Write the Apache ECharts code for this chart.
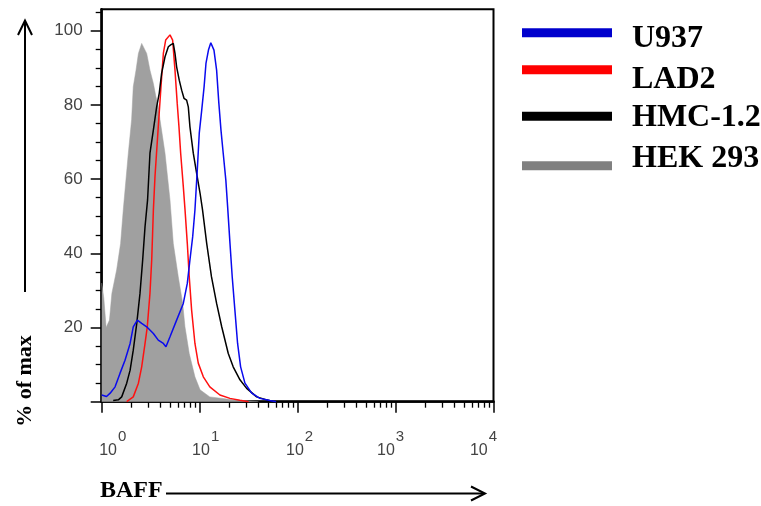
<!DOCTYPE html>
<html><head><meta charset="utf-8">
<script src="https://cdn.jsdelivr.net/npm/echarts@6/dist/echarts.min.js"></script>
<style>html,body{margin:0;padding:0;background:#fff}#c{width:761px;height:506px}</style>
</head><body><div id="c"></div>
<script>
// ---- data ----
const seriesNames = ['U937', 'LAD2', 'HMC-1.2', 'HEK 293'];

const u937X = [1.00,1.12,1.22,1.37,1.54,1.73,1.95,2.10,2.31,2.56,2.88,3.37,3.78,4.26,4.53,4.98,5.82,6.81,7.48,7.96,8.49,8.95,9.46,9.91,10.5,11.1,11.6,12.3,13.0,14.0,14.9,15.7,16.5,17.4,18.5,19.3,20.4,21.5,22.9,24.4,26.2,29.0,34.0,41.2,52.1,60.3];
const u937Y = [1.8,1.4,2.3,4,7.7,11.2,15.7,20.2,22,21.1,20.2,18.4,16.6,15.7,14.8,17.5,22,26.5,31.9,38.2,44.5,51.7,62.5,72.4,78.6,84.9,91.2,94.8,96.8,94.8,89.4,80.5,73.3,67,59.8,52.6,42.7,33.7,24.7,15.7,9.4,5,2.3,0.9,0.3,0];

const lad2X = [1.80,2.10,2.37,2.56,2.77,2.92,3.11,3.24,3.37,3.50,3.78,4.03,4.26,4.50,4.98,5.30,5.60,5.90,6.15,6.40,6.81,7.08,7.48,7.83,8.28,8.95,9.68,10.9,12.7,16.1,20.4,25.7,31.6];
const lad2Y = [0,1.3,5,9.4,15.7,20.2,29.2,38.2,51.7,60.7,74.1,84.9,93.9,97.5,98.9,97.5,89.4,80.5,74.1,67,58,52,42.7,33.7,24.7,15.7,10.4,6.7,4.0,1.8,0.9,0.4,0];

const hmcX = [1.31,1.48,1.60,1.80,1.95,2.10,2.28,2.46,2.62,2.77,2.94,3.11,3.37,3.64,3.87,4.09,4.43,4.79,5.06,5.38,5.60,5.82,6.19,6.55,6.92,7.36,7.66,7.96,8.61,9.31,10.1,10.7,11.8,13.2,14.9,16.8,19.6,22.0,25.8,30.2,38.2,48.3,56.2];
const hmcY = [0.3,0.5,1.3,5,8.5,13.9,21.1,29.2,38.2,47.2,54.4,67,73.3,79.5,83.2,88.5,93,95.7,96.2,96.6,93.9,90.3,86.7,84,81.8,81.3,79.5,74.1,67,61.6,56.2,51.7,42.7,33.7,26.5,20.2,13,9.4,5.9,3.6,1.3,0.5,0];

const hekX = [1.00,1.05,1.11,1.16,1.20,1.27,1.42,1.56,1.66,1.87,2.02,2.10,2.24,2.37,2.56,2.88,3.11,3.37,3.58,3.76,3.94,4.43,4.98,5.38,6.05,6.71,7.08,7.83,8.95,10.1,12.7,22.0,39.8];
const hekY = [32,28,20,19.5,22,29.2,35.5,42.7,51.7,67,76,84.9,89.4,93.9,96.6,93.9,89.4,85.8,82.2,80,76,67,54.4,42.7,33.7,26.5,20.2,13,6.7,3.2,1.3,0.5,0];

const xTickValues = [1, 10, 100, 1000, 10000];
const xMinorTickValues = [2,3,4,5,6,7,8,9,20,30,40,50,60,70,80,90,200,300,400,500,600,700,800,900,2000,3000,4000,5000,6000,7000,8000,9000];
const yTickValues = [0, 20, 40, 60, 80, 100];
const yLabelValues = [20, 40, 60, 80, 100];
const yMinorTickValues = [5,10,15,25,30,35,45,50,55,65,70,75,85,90,95,105];

const xAxisTitle = 'BAFF';
const yAxisTitle = '% of max';

// ---- styling ----
const lineColors = ['#0a0aee', '#ff1010', '#000000', '#a0a0a0'];
const legendColors = ['#0000cd', '#ff0000', '#000000', '#808080'];
const labelShift = [11, 6, 2, -5, -10];
const SERIF = '"Liberation Serif","Times New Roman",serif';
const SANS = '"Liberation Sans",Arial,sans-serif';

const pairs = (xs, ys) => xs.map((x, i) => [x, ys[i]]);
const seriesData = [pairs(u937X, u937Y), pairs(lad2X, lad2Y), pairs(hmcX, hmcY), pairs(hekX, hekY)];

const rich = {};
labelShift.forEach((s, e) => {
  rich['t' + e] = {fontSize: 16, fontFamily: SANS, color: '#444', lineHeight: 16, padding: [13, 0, 0, Math.max(0, 2 * s)]};
  rich['s' + e] = {fontSize: 15, fontFamily: SANS, color: '#444', lineHeight: 16, padding: [0, Math.max(0, -2 * s), 13, 1]};
});

const drawOrder = [3, 1, 2, 0];
const series = drawOrder.map(i => {
  const s = {
    name: seriesNames[i], type: 'line', data: seriesData[i], showSymbol: false, symbol: 'none',
    xAxisIndex: 0, yAxisIndex: 0, animation: false,
    lineStyle: {color: lineColors[i], width: 1.5}, itemStyle: {color: lineColors[i]}, z: 2 + drawOrder.indexOf(i)
  };
  if (i === 3) {
    s.lineStyle = {color: lineColors[i], width: 0.5};
    s.areaStyle = {color: lineColors[i], opacity: 1};
  }
  return s;
});

const legendY = [32.8, 69.8, 116.2, 165.8];
const legendTextY = [38.5, 80, 117.5, 159.2];
const graphic = [];
seriesNames.forEach((n, i) => {
  graphic.push({type: 'rect', shape: {x: 522, y: legendY[i] - 4.5, width: 90, height: 9}, style: {fill: legendColors[i]}});
  graphic.push({type: 'text', x: 632, y: legendTextY[i], style: {text: n, font: 'bold 32px ' + SERIF, fill: '#000', textAlign: 'left', textVerticalAlign: 'middle'}});
});
graphic.push(
  {type: 'polyline', shape: {points: [[25, 292], [25, 21]]}, style: {stroke: '#000', lineWidth: 2, fill: null}},
  {type: 'polyline', shape: {points: [[18, 35], [25, 20.5], [32, 35]]}, style: {stroke: '#000', lineWidth: 2, fill: null}},
  {type: 'text', x: 25, y: 381, rotation: Math.PI / 2, style: {text: yAxisTitle, font: 'bold 22px ' + SERIF, fill: '#000', textAlign: 'center', textVerticalAlign: 'middle'}},
  {type: 'text', x: 100, y: 491, style: {text: xAxisTitle, font: 'bold 24px ' + SERIF, fill: '#000', textAlign: 'left', textVerticalAlign: 'middle'}},
  {type: 'polyline', shape: {points: [[166, 493.5], [484, 493.5]]}, style: {stroke: '#000', lineWidth: 2, fill: null}},
  {type: 'polyline', shape: {points: [[471, 486.5], [485, 493.5], [471, 500.5]]}, style: {stroke: '#000', lineWidth: 2, fill: null}}
);

const chart = echarts.init(document.getElementById('c'), null, {renderer: 'canvas'});
chart.setOption({
  animation: false,
  backgroundColor: '#fff',
  legend: {show: false},
  grid: {left: 101.7, right: 267.5, top: 9.3, bottom: 104.3, containLabel: false, outerBoundsMode: 'none',
         show: true, borderColor: '#000', borderWidth: 2, backgroundColor: 'transparent'},
  xAxis: [
    {type: 'log', logBase: 10, min: 1, max: 10000, position: 'bottom',
     axisLine: {show: true, onZero: false, lineStyle: {color: '#000', width: 2.5}},
     axisTick: {show: true, length: 11, customValues: xTickValues, lineStyle: {color: '#000', width: 1.5}},
     axisLabel: {show: true, customValues: xTickValues, margin: 34, hideOverlap: false,
                 formatter: v => { const e = Math.round(Math.log10(v)); return '{t' + e + '|10}{s' + e + '|' + e + '}'; },
                 rich: rich},
     splitLine: {show: false}},
    {type: 'log', logBase: 10, min: 1, max: 10000, position: 'bottom', gridIndex: 0,
     axisLine: {show: false, onZero: false},
     axisTick: {show: true, length: 6, customValues: xMinorTickValues, lineStyle: {color: '#000', width: 1.3}},
     axisLabel: {show: false}, splitLine: {show: false}}
  ],
  yAxis: [
    {type: 'value', min: 0, max: 105.8, position: 'left',
     axisLine: {show: true, onZero: false, lineStyle: {color: '#000', width: 2.5}},
     axisTick: {show: true, length: 11, customValues: yTickValues, lineStyle: {color: '#000', width: 1.5}},
     axisLabel: {show: true, customValues: yLabelValues, margin: 19, fontSize: 17, fontFamily: SANS, color: '#444'},
     splitLine: {show: false}},
    {type: 'value', min: 0, max: 105.8, position: 'left', gridIndex: 0,
     axisLine: {show: false, onZero: false},
     axisTick: {show: true, length: 6, customValues: yMinorTickValues, lineStyle: {color: '#000', width: 1.3}},
     axisLabel: {show: false}, splitLine: {show: false}}
  ],
  series: series,
  graphic: graphic
});
</script></body></html>
